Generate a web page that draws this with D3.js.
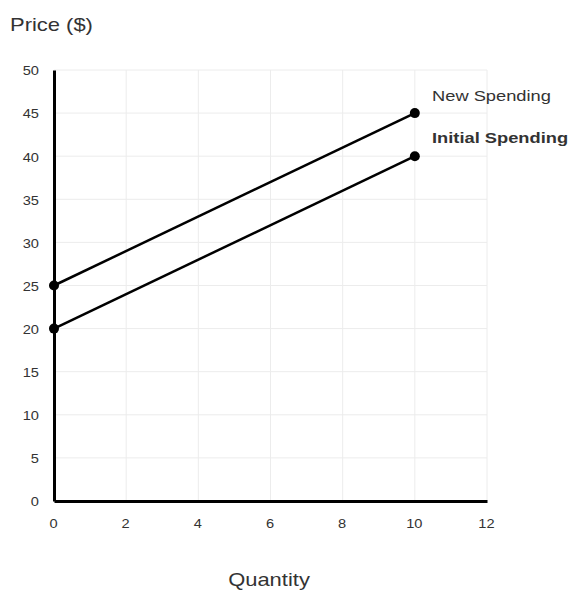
<!DOCTYPE html>
<html><head><meta charset="utf-8">
<script src="https://cdn.jsdelivr.net/npm/d3@7"></script>
<style>body{margin:0;background:#fff;}svg{display:block;font-family:"Liberation Sans",Arial,sans-serif;}</style>
</head><body>
<script>
const seriesNames = ["New Spending", "Initial Spending"];
const newSpending = [{q:0,p:25},{q:10,p:45}];
const initialSpending = [{q:0,p:20},{q:10,p:40}];
const xTicks = [0,2,4,6,8,10,12];
const yTicks = [0,5,10,15,20,25,30,35,40,45,50];

const W=573,H=590, SX=1.22;
const svg=d3.select("body").append("svg").attr("width",W).attr("height",H);
const x=d3.scaleLinear().domain([0,12]).range([54,487]);
const y=d3.scaleLinear().domain([0,50]).range([501,70]);

// grid
svg.append("g").selectAll("line").data(xTicks.slice(1)).join("line")
  .attr("x1",d=>x(d)).attr("x2",d=>x(d)).attr("y1",y(0)).attr("y2",y(50))
  .attr("stroke","#ececec").attr("stroke-width",1);
svg.append("g").selectAll("line").data(yTicks.slice(1)).join("line")
  .attr("x1",x(0)).attr("x2",x(12)).attr("y1",d=>y(d)).attr("y2",d=>y(d))
  .attr("stroke","#ececec").attr("stroke-width",1);

// axes
const xa=svg.append("g").attr("transform",`translate(0,${y(0)})`)
  .call(d3.axisBottom(x).tickValues(xTicks).tickSize(0).tickPadding(18));
xa.select(".domain").attr("stroke","#000").attr("stroke-width",3);
xa.selectAll("text").attr("font-size",12).attr("fill","#333")
  .attr("font-family","Liberation Sans, Arial, sans-serif")
  .attr("transform",`translate(-1,0) scale(${SX},1)`);
const ya=svg.append("g").attr("transform",`translate(${x(0)},0)`)
  .call(d3.axisLeft(y).tickValues(yTicks).tickSize(0));
ya.select(".domain").attr("stroke","#000").attr("stroke-width",3);
ya.selectAll("text").attr("font-size",12).attr("fill","#333")
  .attr("font-family","Liberation Sans, Arial, sans-serif")
  .attr("x",0).attr("transform",`translate(-15,1) scale(${SX},1)`);

const line=d3.line().x(d=>x(d.q)).y(d=>y(d.p));
[newSpending,initialSpending].forEach(s=>{
  svg.append("path").datum(s).attr("d",line).attr("fill","none").attr("stroke","#000").attr("stroke-width",2.5);
  svg.append("g").selectAll("circle").data(s).join("circle")
    .attr("cx",d=>x(d.q)).attr("cy",d=>y(d.p)).attr("r",5).attr("fill","#000");
});

function label(tx,ty,size,txt,opts={}){
  const t=svg.append("text").attr("transform",`translate(${tx},${ty}) scale(${SX},1)`)
    .attr("font-size",size).attr("fill","#333").text(txt);
  if(opts.bold) t.attr("font-weight","bold");
  if(opts.anchor) t.attr("text-anchor",opts.anchor);
  return t;
}
label(432,101,15,seriesNames[0]);
label(432,143,15,seriesNames[1],{bold:true});
label(10,31,18,"Price ($)");
label(269,586,18,"Quantity",{anchor:"middle"});
</script>
</body></html>
